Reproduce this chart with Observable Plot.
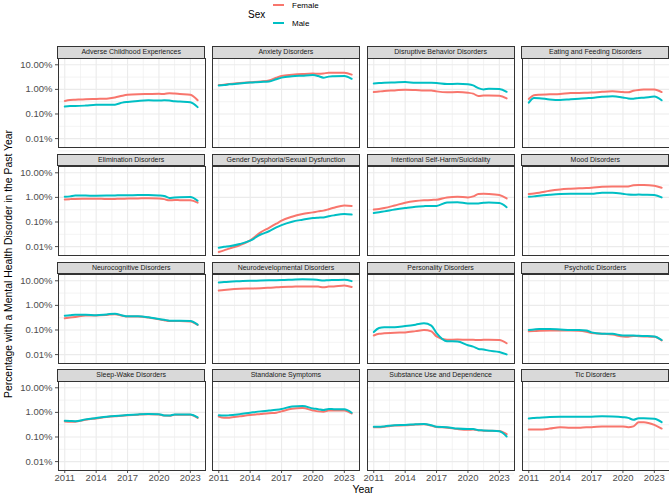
<!DOCTYPE html>
<html>
<head>
<meta charset="utf-8">
<script src="https://cdn.jsdelivr.net/npm/d3@7"></script>
<script src="https://cdn.jsdelivr.net/npm/@observablehq/plot@0.6"></script>
<style>
  html, body { margin: 0; padding: 0; background: #ffffff; }
  #root { position: relative; width: 669px; height: 493px; overflow: hidden; background: #ffffff;
          font-family: "Liberation Sans", Arial, sans-serif; }
  .strip { position: absolute; box-sizing: border-box; background: #D9D9D9; border: 1px solid #333333;
           font-size: 7px; color: #1A1A1A; text-align: center; line-height: 10px; white-space: nowrap; }
  .txt { position: absolute; white-space: nowrap; color: #000; }
  .key { position: absolute; height: 2px; }
</style>
</head>
<body>
<div id="root"></div>
<script>
// ---- data (percent of population) ----
const years = [2011, 2011.5, 2012, 2013, 2014, 2015, 2015.8, 2016.5, 2017, 2018, 2019, 2020, 2020.5, 2021, 2021.5, 2022, 2023, 2023.7];

const facets = [
  "Adverse Childhood Experiences", "Anxiety Disorders", "Disruptive Behavior Disorders", "Eating and Feeding Disorders",
  "Elimination Disorders", "Gender Dysphoria/Sexual Dysfunction", "Intentional Self-Harm/Suicidality", "Mood Disorders",
  "Neurocognitive Disorders", "Neurodevelopmental Disorders", "Personality Disorders", "Psychotic Disorders",
  "Sleep-Wake Disorders", "Standalone Symptoms", "Substance Use and Dependence", "Tic Disorders"
];

const female = [
  [0.34, 0.37, 0.38, 0.40, 0.41, 0.42, 0.47, 0.55, 0.60, 0.64, 0.65, 0.66, 0.65, 0.70, 0.68, 0.65, 0.60, 0.36],
  [1.5, 1.55, 1.65, 1.8, 1.95, 2.1, 2.3, 3.0, 3.5, 3.9, 4.2, 4.4, 4.3, 4.4, 4.8, 4.8, 4.8, 4.0],
  [0.78, 0.82, 0.86, 0.91, 0.97, 0.94, 0.91, 0.90, 0.83, 0.76, 0.78, 0.73, 0.67, 0.54, 0.56, 0.57, 0.55, 0.43],
  [0.41, 0.58, 0.61, 0.63, 0.65, 0.71, 0.72, 0.73, 0.74, 0.80, 0.84, 0.78, 0.76, 0.88, 0.95, 0.98, 1.0, 0.78],
  [0.83, 0.85, 0.87, 0.88, 0.89, 0.86, 0.87, 0.88, 0.90, 0.91, 0.92, 0.90, 0.85, 0.76, 0.78, 0.77, 0.76, 0.61],
  [0.006, 0.007, 0.0083, 0.0114, 0.018, 0.038, 0.058, 0.085, 0.113, 0.164, 0.21, 0.246, 0.27, 0.29, 0.33, 0.38, 0.47, 0.45],
  [0.32, 0.34, 0.37, 0.47, 0.61, 0.71, 0.76, 0.79, 0.80, 1.0, 1.06, 1.0, 1.1, 1.36, 1.4, 1.38, 1.24, 0.91],
  [1.37, 1.45, 1.55, 1.86, 2.1, 2.25, 2.35, 2.4, 2.47, 2.7, 2.8, 2.75, 2.8, 3.1, 3.16, 3.16, 2.97, 2.47],
  [0.30, 0.32, 0.34, 0.39, 0.39, 0.41, 0.44, 0.38, 0.35, 0.35, 0.32, 0.27, 0.25, 0.23, 0.23, 0.23, 0.22, 0.16],
  [4.0, 4.2, 4.4, 4.7, 4.85, 5.0, 5.2, 5.4, 5.6, 5.75, 5.9, 5.9, 5.8, 5.4, 5.8, 5.9, 6.5, 5.6],
  [0.06, 0.07, 0.073, 0.078, 0.08, 0.09, 0.1, 0.088, 0.055, 0.04, 0.041, 0.04, 0.04, 0.039, 0.04, 0.04, 0.039, 0.029],
  [0.088, 0.09, 0.094, 0.095, 0.095, 0.095, 0.093, 0.085, 0.076, 0.071, 0.065, 0.054, 0.053, 0.057, 0.056, 0.055, 0.053, 0.038],
  [0.43, 0.42, 0.42, 0.50, 0.57, 0.65, 0.70, 0.73, 0.76, 0.81, 0.84, 0.83, 0.74, 0.73, 0.81, 0.80, 0.81, 0.60],
  [0.67, 0.60, 0.61, 0.69, 0.78, 0.86, 0.93, 0.97, 1.1, 1.4, 1.5, 1.2, 1.1, 1.06, 1.2, 1.2, 1.2, 0.9],
  [0.25, 0.25, 0.26, 0.29, 0.30, 0.32, 0.33, 0.29, 0.255, 0.24, 0.21, 0.195, 0.20, 0.19, 0.18, 0.18, 0.175, 0.13],
  [0.20, 0.20, 0.20, 0.22, 0.25, 0.24, 0.24, 0.25, 0.25, 0.27, 0.27, 0.27, 0.25, 0.27, 0.40, 0.40, 0.31, 0.22]
];

const male = [
  [0.20, 0.21, 0.21, 0.22, 0.24, 0.24, 0.24, 0.29, 0.31, 0.34, 0.36, 0.35, 0.36, 0.35, 0.33, 0.32, 0.30, 0.19],
  [1.45, 1.5, 1.6, 1.75, 1.9, 2.0, 2.1, 2.6, 3.0, 3.4, 3.6, 3.8, 3.5, 3.0, 3.3, 3.4, 3.5, 2.7],
  [1.75, 1.8, 1.86, 1.92, 1.98, 1.86, 1.86, 1.84, 1.8, 1.65, 1.7, 1.6, 1.45, 1.13, 1.0, 1.06, 1.03, 0.8],
  [0.29, 0.45, 0.44, 0.39, 0.37, 0.40, 0.42, 0.44, 0.45, 0.50, 0.53, 0.47, 0.43, 0.42, 0.45, 0.46, 0.51, 0.36],
  [1.06, 1.1, 1.2, 1.18, 1.17, 1.18, 1.2, 1.22, 1.22, 1.24, 1.24, 1.2, 1.15, 0.95, 1.0, 1.02, 1.03, 0.73],
  [0.0089, 0.0098, 0.0103, 0.0127, 0.0175, 0.031, 0.042, 0.06, 0.075, 0.103, 0.124, 0.145, 0.15, 0.154, 0.17, 0.186, 0.21, 0.2],
  [0.23, 0.25, 0.27, 0.32, 0.37, 0.42, 0.44, 0.45, 0.45, 0.62, 0.63, 0.57, 0.57, 0.57, 0.60, 0.62, 0.59, 0.40],
  [1.06, 1.1, 1.17, 1.28, 1.37, 1.4, 1.4, 1.4, 1.4, 1.55, 1.55, 1.4, 1.3, 1.28, 1.3, 1.28, 1.24, 1.0],
  [0.38, 0.40, 0.42, 0.42, 0.40, 0.43, 0.46, 0.39, 0.36, 0.36, 0.33, 0.28, 0.26, 0.24, 0.24, 0.24, 0.23, 0.165],
  [8.5, 8.9, 9.2, 9.6, 10.0, 10.2, 10.4, 10.6, 10.7, 11.1, 11.5, 11.3, 10.8, 10.2, 10.6, 10.7, 11.0, 9.7],
  [0.083, 0.12, 0.13, 0.13, 0.145, 0.165, 0.186, 0.15, 0.075, 0.035, 0.034, 0.024, 0.021, 0.017, 0.016, 0.0145, 0.0128, 0.0102],
  [0.10, 0.105, 0.11, 0.11, 0.105, 0.10, 0.10, 0.095, 0.08, 0.071, 0.07, 0.06, 0.06, 0.06, 0.058, 0.057, 0.055, 0.039],
  [0.46, 0.45, 0.44, 0.52, 0.59, 0.67, 0.72, 0.75, 0.78, 0.83, 0.86, 0.85, 0.75, 0.74, 0.83, 0.82, 0.83, 0.63],
  [0.76, 0.74, 0.76, 0.85, 0.97, 1.1, 1.18, 1.27, 1.37, 1.75, 1.8, 1.45, 1.35, 1.24, 1.37, 1.35, 1.33, 0.97],
  [0.26, 0.26, 0.27, 0.30, 0.31, 0.33, 0.34, 0.30, 0.26, 0.25, 0.22, 0.21, 0.21, 0.19, 0.185, 0.18, 0.17, 0.105],
  [0.57, 0.59, 0.61, 0.65, 0.67, 0.66, 0.66, 0.66, 0.67, 0.69, 0.68, 0.64, 0.60, 0.50, 0.58, 0.58, 0.55, 0.40]
];

const sexes = ["Female", "Male"];
const sexColors = ["#F8766D", "#00BFC4"];
const xTicks = [2011, 2014, 2017, 2020, 2023];
const xMinor = [2012.5, 2015.5, 2018.5, 2021.5];
const yTicks = [0.01, 0.1, 1, 10];
const yMinor = [0.00316, 0.0316, 0.316, 3.16];
const yTickLabels = ["0.01%", "0.10%", "1.00%", "10.00%"];

// ---- layout ----
const root = document.getElementById("root");
const colLeft0 = 57.7, colPitch = 154.7, panelW = 147;
const stripTop0 = 46, rowPitch = 107.8, stripH = 12, panelH = 89;

function addText(text, style) {
  const d = document.createElement("div");
  d.className = "txt";
  d.textContent = text;
  Object.assign(d.style, style);
  root.appendChild(d);
  return d;
}

facets.forEach((name, i) => {
  const r = Math.floor(i / 4), c = i % 4;
  const left = colLeft0 + c * colPitch;
  const stripTop = stripTop0 + r * rowPitch;
  const panelTop = stripTop + stripH;
  const rows = [];
  years.forEach((yr, k) => {
    rows.push({year: yr, value: female[i][k], sex: sexes[0]});
  });
  years.forEach((yr, k) => {
    rows.push({year: yr, value: male[i][k], sex: sexes[1]});
  });
  const isLeft = c === 0, isBottom = r === 3;
  const svg = Plot.plot({
    width: panelW, height: panelH,
    marginTop: 0, marginRight: 0, marginBottom: 0, marginLeft: 0,
    style: "background: transparent; overflow: visible; max-width: none; font-family: 'Liberation Sans', Arial, sans-serif; font-size: 9.5px; color: #4D4D4D;",
    x: {domain: [2010.4, 2024.45], axis: isBottom ? "bottom" : null, ticks: xTicks,
        tickFormat: d => String(d), tickSize: 3, tickPadding: 0.5, label: null},
    y: {type: "log", domain: [0.00435, 18], axis: isLeft ? "left" : null, ticks: yTicks,
        tickFormat: d => yTickLabels[yTicks.indexOf(d)] ?? "", tickSize: 3, tickPadding: 3, label: null},
    color: {domain: sexes, range: sexColors},
    marks: [
      Plot.ruleX(xMinor, {stroke: "#EBEBEB", strokeWidth: 0.6}),
      Plot.ruleY(yMinor, {stroke: "#EBEBEB", strokeWidth: 0.6}),
      Plot.ruleX(xTicks, {stroke: "#EBEBEB", strokeWidth: 1.1}),
      Plot.ruleY(yTicks, {stroke: "#EBEBEB", strokeWidth: 1.1}),
      Plot.line(rows, {x: "year", y: "value", stroke: "sex", z: "sex", strokeWidth: 2, curve: "monotone-x"}),
      Plot.frame({stroke: "#333333", strokeWidth: 1})
    ]
  });
  svg.style.position = "absolute";
  svg.style.left = left + "px";
  svg.style.top = panelTop + "px";
  root.appendChild(svg);

  const s = document.createElement("div");
  s.className = "strip";
  s.textContent = name;
  Object.assign(s.style, {left: (left - 0.5) + "px", top: stripTop + "px", width: (panelW + 1) + "px", height: (stripH + 0.5) + "px"});
  root.appendChild(s);
});

// ---- axis titles ----
addText("Year", {left: "363px", top: "488.6px", fontSize: "10.5px", lineHeight: "9px", transform: "translate(-50%, -50%)"});
addText("Percentage with a Mental Health Disorder in the Past Year",
  {left: "8px", top: "264px", fontSize: "10.4px", transform: "translate(-50%, -50%) rotate(-90deg)"});

// ---- legend ----
addText("Sex", {left: "248px", top: "13.5px", fontSize: "10px", transform: "translateY(-50%)"});
sexes.forEach((sx, k) => {
  const y = k === 0 ? 5 : 23.3;
  const key = document.createElement("div");
  key.className = "key";
  Object.assign(key.style, {left: "272.7px", top: (y - 1) + "px", width: "11.6px", background: sexColors[k]});
  root.appendChild(key);
  addText(sx, {left: "292px", top: y + "px", fontSize: "8px", lineHeight: "9px", transform: "translateY(-50%)"});
});
</script>
</body>
</html>
